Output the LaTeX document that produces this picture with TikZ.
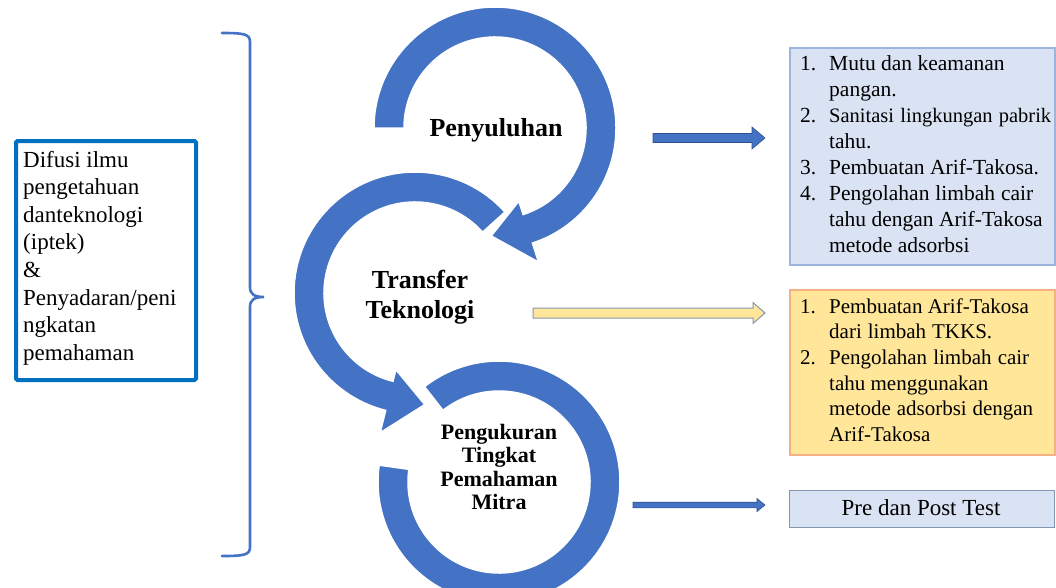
\documentclass[tikz,border=0pt]{standalone}
\usepackage{fontspec}
\setmainfont{Liberation Serif}
\usetikzlibrary{calc}
\definecolor{ringblue}{HTML}{4472C4}
\definecolor{boxblue}{HTML}{0070C0}
\definecolor{lightblue}{HTML}{DAE3F3}
\definecolor{lbborder}{HTML}{9DB4DC}
\definecolor{lyellow}{HTML}{FFE699}
\definecolor{lorange}{HTML}{F4B183}
\definecolor{darkline}{HTML}{2F528F}
\definecolor{grayblue}{HTML}{8497B0}
\newcommand\itm[1]{\par\hangindent=29pt\hangafter=1\noindent\makebox[29pt][l]{#1}}
\begin{document}
\begin{tikzpicture}[x=1pt,y=1pt,
  ring/.style={fill=ringblue, draw=white, line width=1.5pt},
  bluearrow/.style={fill=ringblue, draw=darkline, line width=0.6pt},
  yellowarrow/.style={fill=lyellow, draw=grayblue, line width=1pt},
  bracestyle/.style={draw=ringblue, line width=2.6pt, line cap=round},
  leftbox/.style={draw=boxblue, line width=4pt, rounded corners=1.5pt, fill=white},
  bluebox/.style={draw=lbborder, line width=1.5pt, fill=lightblue},
  yellowbox/.style={draw=lorange, line width=1.5pt, fill=lyellow},
  testbox/.style={draw=grayblue, line width=1.2pt, fill=lightblue},
  txt/.style={inner sep=0pt, anchor=base west},
  bigbold/.style={font=\bfseries\fontsize{26}{30}\selectfont, align=center, inner sep=0pt},
  smallbold/.style={font=\bfseries\fontsize{22}{23.3}\selectfont, align=center, inner sep=0pt}
]
\useasboundingbox (0,0) rectangle (1056,-587);
\begin{scope}
\clip (0,0) rectangle (1056,-587);
% centres of the three circular arrows
\coordinate (cA) at (495,-128);
\coordinate (cB) at (415,-293);
\coordinate (cC) at (499,-482);
% ring A: clockwise, from left end over the top to the arrow head at the bottom
\filldraw[ring] ($(cA)+(180:121)$) arc[start angle=180, end angle=-72, radius=121]
  -- ($(cA)+(-72:141)$) -- ($(cA)+(-92:108)$) -- ($(cA)+(-72:77)$)
  -- ($(cA)+(-72:91)$) arc[start angle=-72, end angle=180, radius=91] -- cycle;
% ring B: counter-clockwise
\filldraw[ring] ($(cB)+(42:121)$) arc[start angle=42, end angle=256, radius=121]
  -- ($(cB)+(256:144)$) -- ($(cB)+(275:112)$) -- ($(cB)+(256:79)$)
  -- ($(cB)+(256:91)$) arc[start angle=256, end angle=42, radius=91] -- cycle;
% ring C: clockwise, no head
\filldraw[ring] ($(cC)+(128:121)$) arc[start angle=128, end angle=-188, radius=121]
  -- ($(cC)+(-188:91)$) arc[start angle=-188, end angle=128, radius=91] -- cycle;

% labels inside rings
\node[bigbold] (pen) at (496,-130) {Penyuluhan};
\node[bigbold] (tt) at (420,-297) {Transfer\\Teknologi};
\node[smallbold] (pm) at (499,-467) {Pengukuran\\Tingkat\\Pemahaman\\Mitra};

% left box
\node[leftbox, minimum width=180pt, minimum height=239pt, anchor=north west] (lb) at (14,-139) {};
\node[txt] (lbt) at (23,-167) {\parbox[t]{170pt}{\fontsize{23}{27.6}\selectfont
Difusi ilmu\\pengetahuan\\danteknologi\\(iptek)\\\&\\Penyadaran/peni\\ngkatan\\pemahaman}};

% brace
\coordinate (brtop) at (222,-33);
\coordinate (brtip) at (264,-297);
\coordinate (brbot) at (222,-556);
\draw[bracestyle] (brtop) .. controls (244,-33) and (250,-34) .. (250,-42)
  -- (250,-287) .. controls (250,-294) and (254,-297) .. (brtip)
  .. controls (254,-297) and (250,-300) .. (250,-307)
  -- (250,-547) .. controls (250,-555) and (244,-556) .. (brbot);

% right boxes
\node[bluebox, minimum width=265pt, minimum height=217pt, anchor=north west] (b1) at (789,-47) {};
\node[yellowbox, minimum width=265pt, minimum height=165pt, anchor=north west] (b2) at (789,-289) {};
\node[testbox, minimum width=265pt, minimum height=37pt, anchor=north west] (b3) at (789,-490) {};

\node[txt] (b1t) at (800,-70) {\parbox[t]{254pt}{\fontsize{21.5}{26}\selectfont
\itm{1.}Mutu dan keamanan\\pangan.
\itm{2.}\makebox[222pt][s]{\fontsize{20.5}{26}\selectfont Sanitasi lingkungan pabrik}\\tahu.
\itm{3.}Pembuatan Arif-Takosa.
\itm{4.}\makebox[204pt][s]{Pengolahan limbah cair}\\tahu dengan Arif-Takosa\\metode adsorbsi}};

\node[txt] (b2t) at (800,-313) {\parbox[t]{254pt}{\fontsize{21}{25.7}\selectfont
\itm{1.}Pembuatan Arif-Takosa\\\makebox[163pt][s]{dari limbah TKKS.}
\itm{2.}\makebox[200pt][s]{Pengolahan limbah cair}\\tahu menggunakan\\\makebox[204pt][s]{metode adsorbsi dengan}\\Arif-Takosa}};

\node[inner sep=0pt, font=\fontsize{23}{26}\selectfont] (b3t) at (921,-508) {Pre dan Post Test};

% block arrows
\coordinate (a1s) at (653,-138);
\coordinate (a1e) at (765,-138);
\filldraw[bluearrow] ($(a1s)+(0,4.5)$) -- ($(a1e)+(-13,4.5)$) -- ($(a1e)+(-13,11)$) -- (a1e)
  -- ($(a1e)+(-13,-11)$) -- ($(a1e)+(-13,-4.5)$) -- ($(a1s)+(0,-4.5)$) -- cycle;
\coordinate (a2s) at (533,-313);
\coordinate (a2e) at (765,-313);
\filldraw[yellowarrow] ($(a2s)+(0,5)$) -- ($(a2e)+(-12,5)$) -- ($(a2e)+(-12,10.5)$) -- (a2e)
  -- ($(a2e)+(-12,-10.5)$) -- ($(a2e)+(-12,-5)$) -- ($(a2s)+(0,-5)$) -- cycle;
\coordinate (a3s) at (633,-505);
\coordinate (a3e) at (765,-505);
\filldraw[bluearrow] ($(a3s)+(0,2.8)$) -- ($(a3e)+(-8,2.8)$) -- ($(a3e)+(-8,6.5)$) -- (a3e)
  -- ($(a3e)+(-8,-6.5)$) -- ($(a3e)+(-8,-2.8)$) -- ($(a3s)+(0,-2.8)$) -- cycle;
\end{scope}
\end{tikzpicture}
\end{document}
